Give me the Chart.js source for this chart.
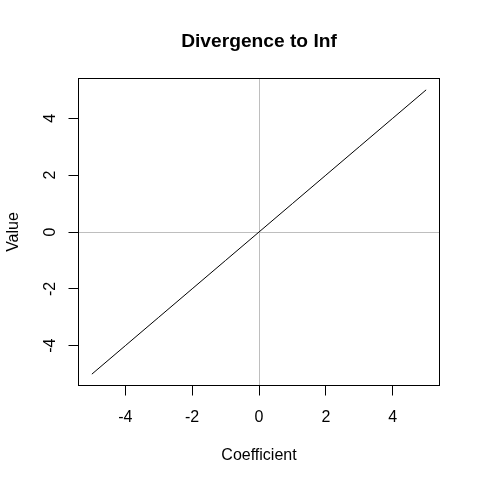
<!DOCTYPE html>
<html>
<head>
<meta charset="utf-8">
<script src="https://cdn.jsdelivr.net/npm/chart.js@4"></script>
<style>
html,body{margin:0;padding:0;background:#fff;}
#wrap{width:480px;height:484px;}
</style>
</head>
<body>
<div id="wrap"><canvas id="c" width="480" height="484"></canvas></div>
<script>
// Data
const coefficients = [-5, -4, -3, -2, -1, 0, 1, 2, 3, 4, 5];
const values = [-5, -4, -3, -2, -1, 0, 1, 2, 3, 4, 5];
const xTicks = [-4, -2, 0, 2, 4];
const yTicks = [-4, -2, 0, 2, 4];
const refX = [0];
const refY = [0];
const axisMin = -5.4, axisMax = 5.4;
const titleText = 'Divergence to Inf';
const xLabel = 'Coefficient';
const yLabel = 'Value';

const FONT = '"Liberation Sans", Arial, sans-serif';

const points = coefficients.map((c, i) => ({x: c, y: values[i]}));

const boxPlugin = {
  id: 'rbox',
  beforeDatasetsDraw(chart) {
    const {ctx, chartArea: a, scales: {x, y}} = chart;
    ctx.save();
    ctx.strokeStyle = '#BEBEBE';
    ctx.lineWidth = 1;
    refX.forEach(v => {
      const px = Math.round(x.getPixelForValue(v)) + 0.5;
      ctx.beginPath(); ctx.moveTo(px, a.top); ctx.lineTo(px, a.bottom); ctx.stroke();
    });
    refY.forEach(v => {
      const py = Math.round(y.getPixelForValue(v)) + 0.5;
      ctx.beginPath(); ctx.moveTo(a.left, py); ctx.lineTo(a.right, py); ctx.stroke();
    });
    ctx.restore();
  },
  afterDraw(chart) {
    const {ctx, chartArea: a, scales: {y}} = chart;
    ctx.save();
    ctx.strokeStyle = '#000';
    ctx.lineWidth = 1;
    ctx.strokeRect(a.left, a.top, a.right - a.left, a.bottom - a.top);
    // rotated y tick labels (R style, las=0)
    ctx.fillStyle = '#000';
    ctx.font = '16px ' + FONT;
    ctx.textAlign = 'center';
    ctx.textBaseline = 'alphabetic';
    yTicks.forEach(v => {
      const py = y.getPixelForValue(v);
      ctx.save();
      ctx.translate(55, py);
      ctx.rotate(-Math.PI / 2);
      ctx.fillText(String(v), 0, 0);
      ctx.restore();
    });
    ctx.restore();
  }
};

new Chart(document.getElementById('c'), {
  type: 'scatter',
  data: {
    datasets: [{
      data: points,
      showLine: true,
      borderColor: '#000',
      borderWidth: 1,
      pointRadius: 0,
      pointHoverRadius: 0,
      tension: 0,
      fill: false
    }]
  },
  options: {
    responsive: false,
    animation: false,
    events: [],
    layout: {padding: {left: 0, right: 40.5, top: 0, bottom: 0}},
    plugins: {
      legend: {display: false},
      tooltip: {enabled: false},
      title: {
        display: true,
        text: titleText,
        fullSize: false,
        color: '#000',
        font: {family: FONT, size: 19.2, weight: 'bold', lineHeight: 1.2},
        padding: {top: 29.8, bottom: 25.66}
      }
    },
    scales: {
      x: {
        type: 'linear',
        min: axisMin, max: axisMax,
        afterBuildTicks(s) { s.ticks = xTicks.map(v => ({value: v})); },
        afterFit(s) { s.height = 98.5; },
        grid: {drawOnChartArea: false, drawTicks: true, tickLength: 10, color: '#000', lineWidth: 1},
        border: {display: true, color: '#000', width: 1},
        ticks: {color: '#000', font: {family: FONT, size: 16}, padding: 12, maxRotation: 0, minRotation: 0,
                callback: v => String(v)},
        title: {display: true, text: xLabel, color: '#000',
                font: {family: FONT, size: 16, lineHeight: 1.2}, padding: {top: 0, bottom: 18.8}}
      },
      y: {
        type: 'linear',
        min: axisMin, max: axisMax,
        afterBuildTicks(s) { s.ticks = yTicks.map(v => ({value: v})); },
        afterFit(s) { s.width = 78.5; },
        grid: {drawOnChartArea: false, drawTicks: true, tickLength: 10, color: '#000', lineWidth: 1},
        border: {display: true, color: '#000', width: 1},
        ticks: {display: false},
        title: {display: true, text: yLabel, color: '#000',
                font: {family: FONT, size: 16, lineHeight: 1.2}, padding: {top: 3.6, bottom: 0}}
      }
    }
  },
  plugins: [boxPlugin]
});
</script>
</body>
</html>
